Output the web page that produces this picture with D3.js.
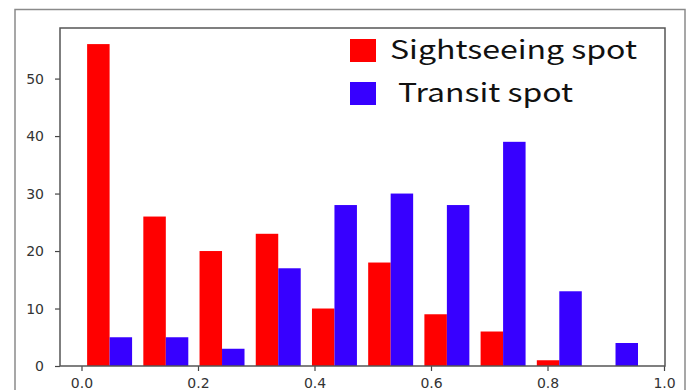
<!DOCTYPE html>
<html>
<head>
<meta charset="utf-8">
<script src="https://cdn.jsdelivr.net/npm/d3@7"></script>
<style>
  html, body { margin: 0; padding: 0; background: #fff; }
  svg { display: block; }
</style>
</head>
<body>
<svg id="chart" width="692" height="390"></svg>
<script>
// ---- data ----
const seriesNames = ["Sightseeing spot", "Transit spot"];
const sightseeing = [56, 26, 20, 23, 10, 18, 9, 6, 1, 0];
const transit     = [5, 5, 3, 17, 28, 30, 28, 39, 13, 4];
const binRange = [0, 0.965];
const xTicks = [0.0, 0.2, 0.4, 0.6, 0.8, 1.0];
const yTicks = [0, 10, 20, 30, 40, 50];
const colors = ["#ff0000", "#3700ff"];

const svg = d3.select("#chart");
const W = 692, H = 390;
const plot = { left: 60, right: 665, top: 28, bottom: 366 };

// outer frame
svg.append("rect")
  .attr("x", 15).attr("y", 9.5)
  .attr("width", 670).attr("height", 400)
  .attr("fill", "none").attr("stroke", "#8a8a8a").attr("stroke-width", 1.5);

const x = d3.scaleLinear().domain([-0.0369, 1.0017]).range([plot.left, plot.right]);
const y = d3.scaleLinear().domain([0, 58.8]).range([plot.bottom, plot.top]);

const nBins = sightseeing.length;
const bw = (binRange[1] - binRange[0]) / nBins;
const series = [sightseeing, transit];

series.forEach((vals, si) => {
  svg.append("g").selectAll("rect")
    .data(vals)
    .join("rect")
    .attr("x", (d, k) => x(binRange[0] + k * bw + bw * (0.1 + 0.4 * si)))
    .attr("width", (d, k) => x(binRange[0] + k * bw + bw * (0.1 + 0.4 * (si + 1))) - x(binRange[0] + k * bw + bw * (0.1 + 0.4 * si)))
    .attr("y", d => y(d))
    .attr("height", d => y(0) - y(d))
    .attr("fill", colors[si]);
});

// axes
const fontFam = "DejaVu Sans, sans-serif";
const xAxis = svg.append("g")
  .attr("transform", `translate(0,${plot.bottom})`)
  .call(d3.axisBottom(x).tickValues(xTicks).tickFormat(d3.format(".1f")).tickSize(5).tickPadding(7).tickSizeOuter(0));
const yAxis = svg.append("g")
  .attr("transform", `translate(${plot.left},0)`)
  .call(d3.axisLeft(y).tickValues(yTicks).tickSize(5).tickPadding(11).tickSizeOuter(0));
[xAxis, yAxis].forEach(g => {
  g.select(".domain").remove();
  g.selectAll("line").attr("stroke", "#444").attr("stroke-width", 1.2);
  g.selectAll("text").attr("font-family", fontFam).attr("font-size", 14).attr("fill", "#333");
});

// spines
svg.append("rect")
  .attr("x", plot.left).attr("y", plot.top)
  .attr("width", plot.right - plot.left).attr("height", plot.bottom - plot.top)
  .attr("fill", "none").attr("stroke", "#555").attr("stroke-width", 1.5);

// legend
const legend = [
  { name: seriesNames[0], color: colors[0], py: 39, tx: 390, ty: 58.5, len: 247 },
  { name: seriesNames[1], color: colors[1], py: 82, tx: 398, ty: 102, len: 175 }
];
legend.forEach(l => {
  svg.append("rect").attr("x", 350).attr("y", l.py).attr("width", 26).attr("height", 23).attr("fill", l.color);
  svg.append("text").attr("x", l.tx).attr("y", l.ty)
    .attr("font-family", "Noto Sans CJK JP, sans-serif").attr("font-size", 26)
    .attr("fill", "#111")
    .attr("textLength", l.len).attr("lengthAdjust", "spacingAndGlyphs")
    .text(l.name);
});
</script>
</body>
</html>
